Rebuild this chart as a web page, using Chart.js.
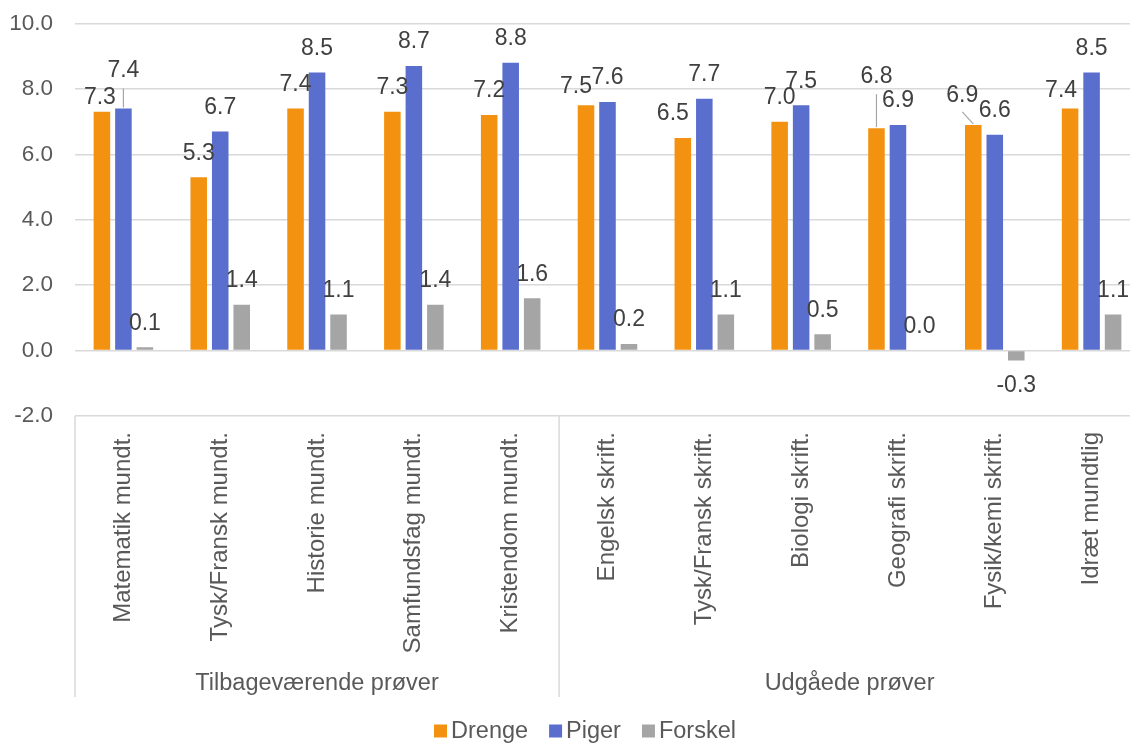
<!DOCTYPE html>
<html><head><meta charset="utf-8">
<script src="https://cdn.jsdelivr.net/npm/chart.js@4.4.0/dist/chart.umd.min.js"></script>
<style>
html,body{margin:0;padding:0;background:#fff;overflow:hidden;}
#wrap{width:1145px;height:756px;margin-top:-12px;position:relative;}
</style></head><body>
<div id="wrap"><canvas id="c"></canvas></div>
<script>
const categories = ['Matematik mundt.','Tysk/Fransk mundt.','Historie mundt.','Samfundsfag mundt.','Kristendom mundt.','Engelsk skrift.','Tysk/Fransk skrift.','Biologi skrift.','Geografi skrift.','Fysik/kemi skrift.','Idræt mundtlig'];
const groupLabels = ['Tilbageværende prøver','Udgåede prøver'];
const groupSizes = [5, 6];
const seriesNames = ['Drenge','Piger','Forskel'];
const drenge  = [7.3, 5.3, 7.4, 7.3, 7.2, 7.5, 6.5, 7.0, 6.8, 6.9, 7.4];
const piger   = [7.4, 6.7, 8.5, 8.7, 8.8, 7.6, 7.7, 7.5, 6.9, 6.6, 8.5];
const forskel = [0.1, 1.4, 1.1, 1.4, 1.6, 0.2, 1.1, 0.5, 0.0, -0.3, 1.1];
const yMin = -2, yMax = 10, yStep = 2;

const colors = ['#F39210', '#5A6FCD', '#A5A5A5'];
const FONT = '"Liberation Sans", Arial, sans-serif';

// label placement tweaks (Excel-style collision avoidance): [dx, dy, leaderLine]
const nudges = {
  '0-0': [-2, 10, false],
  '1-0': [0, -14, true],
  '0-5': [-10, 5, false],
  '0-6': [-10, 0, false],
  '0-8': [0, -28, true],
  '0-9': [-11, -5, true],
  '0-10': [-9, 6, false]
};

const xAxisHeight = 281;

const overlayPlugin = {
  id: 'overlay',
  afterDatasetsDraw(chart) {
    const ctx = chart.ctx;
    ctx.save();
    ctx.font = '23px ' + FONT;
    ctx.textAlign = 'center';
    ctx.textBaseline = 'middle';
    chart.data.datasets.forEach((ds, di) => {
      const meta = chart.getDatasetMeta(di);
      meta.data.forEach((bar, i) => {
        const v = ds.data[i];
        let cx = bar.x, cy = v < 0 ? bar.y + 25 : bar.y - 24;
        const n = nudges[di + '-' + i];
        if (n) {
          cx += n[0]; cy += n[1];
          if (n[2]) {
            ctx.strokeStyle = '#A6A6A6';
            ctx.lineWidth = 1.2;
            ctx.beginPath();
            if (n[0] === 0) {
              ctx.moveTo(bar.x, cy + 18);
              ctx.lineTo(bar.x, bar.y - 1);
            } else {
              ctx.moveTo(cx, cy + 16);
              ctx.lineTo(bar.x, bar.y - 1);
            }
            ctx.stroke();
          }
        }
        ctx.fillStyle = '#404040';
        ctx.fillText(v.toFixed(1), cx, cy);
      });
    });
    ctx.restore();
  },
  afterDraw(chart) {
    const ctx = chart.ctx;
    const ca = chart.chartArea;
    const xs = chart.scales.x;
    const bottom = ca.bottom + xAxisHeight;
    ctx.save();
    ctx.strokeStyle = '#D9D9D9';
    ctx.lineWidth = 1.5;
    let idx = 0;
    const bounds = [ca.left];
    groupSizes.forEach(s => { idx += s; bounds.push(idx < categories.length ? (xs.getPixelForTick(idx - 1) + xs.getPixelForTick(idx)) / 2 : ca.right); });
    for (let b = 0; b < bounds.length - 1; b++) {
      ctx.beginPath();
      ctx.moveTo(bounds[b], ca.bottom);
      ctx.lineTo(bounds[b], bottom);
      ctx.stroke();
    }
    ctx.fillStyle = '#595959';
    ctx.font = '23.5px ' + FONT;
    ctx.textAlign = 'center';
    ctx.textBaseline = 'middle';
    groupLabels.forEach((g, gi) => {
      ctx.fillText(g, (bounds[gi] + bounds[gi + 1]) / 2, bottom - 13);
    });
    // legend
    ctx.font = '23.5px ' + FONT;
    const items = chart.data.datasets.map((d, i) => ({ text: d.label, color: colors[i], w: ctx.measureText(d.label).width }));
    const total = items.reduce((a, it) => a + 13 + 4 + it.w, 0) + 21 * (items.length - 1);
    let x = 585 - total / 2;
    const ly = chart.height - 13;
    ctx.textAlign = 'left';
    items.forEach(it => {
      ctx.fillStyle = it.color;
      ctx.fillRect(x, ly - 6.5, 13, 13);
      ctx.fillStyle = '#595959';
      ctx.fillText(it.text, x + 17, ly + 1);
      x += 17 + it.w + 21;
    });
    ctx.restore();
  }
};

new Chart(document.getElementById('c'), {
  type: 'bar',
  data: {
    labels: categories,
    datasets: [
      { label: seriesNames[0], data: drenge, backgroundColor: colors[0] },
      { label: seriesNames[1], data: piger, backgroundColor: colors[1] },
      { label: seriesNames[2], data: forskel, backgroundColor: colors[2] }
    ]
  },
  options: {
    responsive: true,
    maintainAspectRatio: false,
    animation: false,
    layout: { padding: { top: 11, left: 10, right: 5, bottom: 47 } },
    datasets: { bar: { categoryPercentage: 0.666, barPercentage: 0.77 } },
    plugins: { legend: { display: false }, tooltip: { enabled: false } },
    scales: {
      x: {
        grid: { display: false },
        border: { display: false },
        ticks: {
          autoSkip: false, minRotation: 90, maxRotation: 90, padding: 8,
          color: '#595959', font: { family: FONT, size: 24 }
        },
        afterFit(s) { s.height = xAxisHeight; }
      },
      y: {
        min: yMin, max: yMax,
        grid: { color: '#D9D9D9', lineWidth: 1.5, drawTicks: false },
        border: { display: false },
        ticks: {
          stepSize: yStep, padding: 22, color: '#595959',
          font: { family: FONT, size: 22.5 },
          callback: v => Number(v).toFixed(1)
        },
        afterFit(s) { s.width = 65; }
      }
    }
  },
  plugins: [overlayPlugin]
});
</script>
</body></html>
